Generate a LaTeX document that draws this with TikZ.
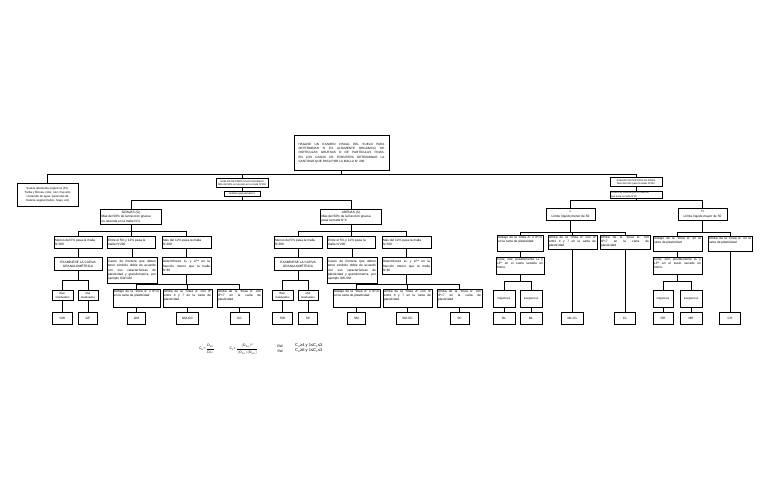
\RequirePackage{fix-cm}
\documentclass[tikz,border=0pt]{standalone}
\usepackage{fontspec}
\setmainfont{Liberation Sans}
\newcommand\fa{\fontsize{3.2}{4.3}\selectfont}
\newcommand\fh{\fontsize{2.5}{3.1}\selectfont}
\newcommand\fc{\fontsize{3.1}{4.3}\selectfont}
\newcommand\fd{\fontsize{2.9}{4.2}\selectfont}
\newcommand\fsm{\fontsize{2.8}{3.5}\selectfont}
\newcommand\ff{\fontsize{3.4}{4}\selectfont}
\newcommand\fg{\fontsize{4.0}{4.5}\selectfont}
\newcommand\tx[4]{\parbox[c][#2pt][#3]{#1pt}{#4}}
\newcommand\bn[7]{\node[bx] (#1) at (#2,#3) {\tx{#4}{#5}{#6}{#7}};}
\newcommand\vl[2]{\draw[ln] (#2.north) -- (#2.north |- #1.south);}
\newcommand\fork[5]{%
  \coordinate (fk) at (0,#2);
  \draw[ln] (#1.south) -- (#1.south |- fk);
  \draw[ln] (#3.north |- fk) -- (#4.north |- fk);
  \foreach \ch in {#3,#4,#5} {\draw[ln] (\ch.north) -- (\ch.north |- fk);}%
}
\newcommand\coarse[3]{%
  \bn{#1m}{78}{236}{46}{11}{c}{\raggedright Menos del 5\% pasa la malla\\ N°200}
  \bn{#1e}{131}{236}{46}{11}{c}{\raggedright Entre el 5\% y 12\% pasa la\\ malla N°200}
  \bn{#1x}{186.5}{236}{47}{11}{c}{\raggedright Más del 12\% pasa la malla\\ N°200}
  \bn{#1c}{78}{257}{46}{12}{c}{\centering EXAMÍNESE LA CURVA\\ GRANULOMÉTRICA}
  \bn{#1f}{132}{257}{48}{25}{c}{Casos de frontera que deben\linebreak tener símbolo doble de acuerdo\linebreak con sus características de\linebreak plasticidad y granulometría, por\linebreak ejemplo #2W-#2M}
  \bn{#1d}{186.5}{257}{47}{16}{c}{Determínese LL y LP* en la\linebreak fracción menor que la malla\linebreak N°40}
  \bn{#1b}{62.5}{290}{19}{9.5}{c}{\fsm\centering Bien\\ Graduados}
  \bn{#1g}{88}{290}{18}{9.5}{c}{\fsm\centering Mal\\ Graduados}
  \bn{#1p}{136.5}{289}{45}{17}{t}{Debajo de la "línea A" o IP<4\linebreak en la carta de plasticidad}
  \bn{#1q}{187.5}{289}{47}{17}{t}{Arriba de la "línea A" con IP\linebreak entre 4 y 7 en la carta de\linebreak plasticidad}
  \bn{#1r}{239.5}{289}{43}{17}{t}{Arriba de la "línea A" con\linebreak IP>7 en la carta de\linebreak plasticidad}
  \bn{#1W1}{62.5}{312}{18}{11}{c}{\centering #2W}
  \bn{#1W2}{88}{312}{17}{11}{c}{\centering #2P}
  \bn{#1W3}{136.5}{312}{16}{11}{c}{\centering #2M}
  \bn{#1W4}{187.5}{312}{20}{11}{c}{\centering #2M-#2C}
  \bn{#1W5}{239.5}{312}{17}{11}{c}{\centering #2C}
  \fork{#3}{231}{#1m}{#1x}{#1e}
  \vl{#1m}{#1c}\vl{#1e}{#1f}\vl{#1x}{#1d}
  \fork{#1c}{280}{#1b}{#1g}{#1b}
  \fork{#1d}{284}{#1p}{#1r}{#1q}
  \vl{#1b}{#1W1}\vl{#1g}{#1W2}\vl{#1p}{#1W3}\vl{#1q}{#1W4}\vl{#1r}{#1W5}
}
\tikzset{
  bx/.style={draw, line width=0.9pt, inner xsep=1pt, inner ysep=0.4pt, anchor=north, font=\fa},
  ln/.style={line width=0.8pt},
  tt/.style={inner sep=0pt, font=\ff}
}
\begin{document}
\begin{tikzpicture}[x=1pt,y=-1pt]
\fill[white] (0,0) rectangle (768,497);
\useasboundingbox (0,0) rectangle (768,497);

% top level
\node[bx, inner xsep=4.5pt] (top) at (341.5,135) {\tx{86}{34}{c}{\fc HÁGASE UN EXAMEN VISUAL DEL SUELO PARA\linebreak DETERMINAR SI ES ALTAMENTE ORGÁNICO, DE\linebreak PARTÍCULAS GRUESAS O DE PARTÍCULAS FINAS.\linebreak EN LOS CASOS DE FRONTERA DETERMINAR LA\linebreak CANTIDAD QUE PASA POR LA MALLA N° 200}};
\bn{lbox}{47.5}{183}{59}{22}{c}{\fd\centering Suelos altamente orgánicos (Pt):\\ Turba y fibrosa, color, olor, muy alto\\ contenido de agua, partículas de\\ materia vegetal (tallos, hojas, etc)}
\bn{lhead}{242}{178}{50}{8}{c}{\fh\centering SUELOS DE PARTÍCULAS GRUESAS\\ Más del 50\% es retenido en la malla N°200}
\bn{lsub}{242}{191}{34}{4}{c}{\fh\centering Análisis granulométrico}
\bn{rhead}{636}{177}{50}{8.5}{c}{\fh\centering SUELOS DE PARTÍCULAS FINAS\\ Más del 50\% pasa la malla N°200}
\bn{rsub}{636}{191}{50}{6}{c}{\fh\raggedright Límites de Atterberg en la fracción\\ que pasa la malla N°40}

\fork{top}{174}{lbox}{rhead}{lhead}
\vl{lhead}{lsub}
\vl{rhead}{rsub}

% coarse soils
\bn{grav}{131}{209}{59}{14}{c}{{\centering GRAVAS (G)\par}\raggedright Más del 50\% de la fracción gruesa\\ es retenida en la malla N°4}
\bn{aren}{351}{209}{59}{14}{c}{{\centering ARENAS (S)\par}\raggedright Más del 50\% de la fracción gruesa\\ pasa la malla N°4}
\fork{lsub}{200}{grav}{aren}{grav}
\coarse{g}{G}{grav}
\begin{scope}[xshift=220pt]
\coarse{a}{S}{aren}
\end{scope}

% fine soils
\bn{Lb}{570.5}{208}{47}{11}{c}{\centering L\\ Límite líquido menor de 50}
\bn{Hb}{702.5}{208}{47}{11}{c}{\centering H\\ Límite líquido mayor de 50}
\fork{rsub}{200}{Lb}{Hb}{Lb}

\bn{L1}{520}{235}{44}{15}{t}{Debajo de la "línea A" o IP<4\linebreak en la carta de plasticidad}
\bn{L2}{572.5}{235}{47}{13}{t}{Arriba de la "línea A" con IP\linebreak entre 4 y 7 en la carta de\linebreak plasticidad}
\bn{L3}{625}{235}{48}{13}{t}{Arriba de la "línea A" con\linebreak IP>7 en la carta de\linebreak plasticidad}
\bn{Lc}{520}{257}{46}{16}{t}{Color, olor, posiblemente LL y\linebreak LP* en el suelo secado en\linebreak horno.}
\bn{Lo}{504}{290}{20}{16}{c}{\fsm\centering Orgánicos}
\bn{Li}{531}{290}{20}{16}{c}{\fsm\centering Inorgánicos}
\bn{OL}{504}{312}{20}{11}{c}{\centering OL}
\bn{ML}{531}{312}{20}{11}{c}{\centering ML}
\bn{MLCL}{572.5}{312}{20}{11}{c}{\centering ML-CL}
\bn{CL}{625}{312}{19}{11}{c}{\centering CL}
\fork{Lb}{232}{L1}{L3}{L2}
\vl{L1}{Lc}
\fork{Lc}{281}{Lo}{Li}{Lo}
\vl{Lo}{OL}\vl{Li}{ML}\vl{L2}{MLCL}\vl{L3}{CL}

\bn{H1}{677.5}{236}{47}{14}{t}{Debajo de la "línea A" en la\linebreak carta de plasticidad}
\bn{H2}{730}{236}{42}{14}{t}{Arriba de la "línea A" en la\linebreak carta de plasticidad}
\bn{Hc}{677.5}{257}{47}{16}{t}{Color, olor, posiblemente LL y\linebreak LP* en el suelo secado en\linebreak horno.}
\bn{Ho}{663}{290}{18}{16}{c}{\fsm\centering Orgánicos}
\bn{Hi}{691}{290}{20}{16}{c}{\fsm\centering Inorgánicos}
\bn{OH}{663}{312}{18}{11}{c}{\centering OH}
\bn{MH}{691}{312}{20}{11}{c}{\centering MH}
\bn{CH}{730}{312}{19}{11}{c}{\centering CH}
\fork{Hb}{232}{H1}{H2}{H1}
\vl{H1}{Hc}
\fork{Hc}{281}{Ho}{Hi}{Ho}
\vl{Ho}{OH}\vl{Hi}{MH}\vl{H2}{CH}

% formulas
\node[tt] (cu) at (207,349) {C\textsubscript{u}=\,$\displaystyle\frac{\textrm{D}_{60}}{\textrm{D}_{10}}$};
\node[tt] (cc) at (244,349) {C\textsubscript{c}=\,$\displaystyle\frac{(\textrm{D}_{30})^2}{(\textrm{D}_{10})(\textrm{D}_{60})}$};
\node[tt] (gw) at (280,346) {GW};
\node[tt] (sw) at (280,351) {SW};
\node[tt, font=\fg, anchor=west] (gwc) at (295,346) {C\textsubscript{u}≥4 y 1≤C\textsubscript{c}≤3};
\node[tt, font=\fg, anchor=west] (swc) at (295,351) {C\textsubscript{u}≥6 y 1≤C\textsubscript{c}≤3};
\end{tikzpicture}
\end{document}
